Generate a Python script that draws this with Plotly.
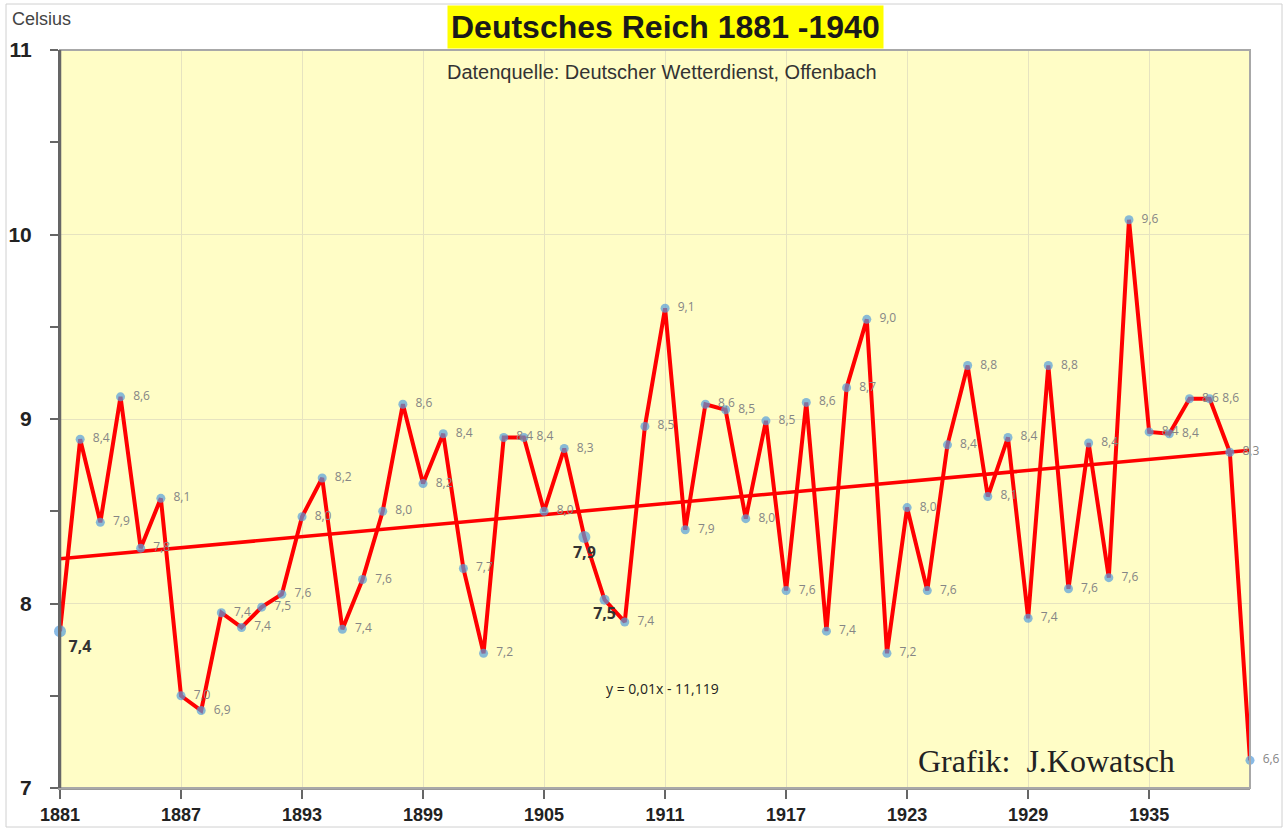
import numpy as np
import plotly.graph_objects as go

years = list(range(1881, 1941))
# plotted positions
values = [7.85, 8.89, 8.44, 9.12, 8.30, 8.57, 7.50, 7.42, 7.95, 7.87,
          7.98, 8.05, 8.47, 8.68, 7.86, 8.13, 8.50, 9.08, 8.65, 8.92,
          8.19, 7.73, 8.90, 8.90, 8.50, 8.84, 8.36, 8.02, 7.90, 8.96,
          9.60, 8.40, 9.08, 9.05, 8.46, 8.99, 8.07, 9.09, 7.85, 9.17,
          9.54, 7.73, 8.52, 8.07, 8.86, 9.29, 8.58, 8.90, 7.92, 9.29,
          8.08, 8.87, 8.14, 10.08, 8.93, 8.92, 9.11, 9.11, 8.82, 7.15]
# printed data labels
labels = ["7,4", "8,4", "7,9", "8,6", "7,8", "8,1", "7,0", "6,9", "7,4", "7,4",
          "7,5", "7,6", "8,0", "8,2", "7,4", "7,6", "8,0", "8,6", "8,2", "8,4",
          "7,7", "7,2", "8,4", "8,4", "8,0", "8,3", "7,9", "7,5", "7,4", "8,5",
          "9,1", "7,9", "8,6", "8,5", "8,0", "8,5", "7,6", "8,6", "7,4", "8,7",
          "9,0", "7,2", "8,0", "7,6", "8,4", "8,8", "8,1", "8,4", "7,4", "8,8",
          "7,6", "8,4", "7,6", "9,6", "8,4", "8,4", "8,6", "8,6", "8,3", "6,6"]
highlight_years = [1881, 1907, 1908]
x_ticks = list(range(1881, 1941, 6))
y_ticks = [7, 8, 9, 10, 11]

# linear trend from the plotted series
slope, intercept = np.polyfit(years, values, 1)
trend_x = [years[0], years[-1]]
trend_y = [slope * v + intercept for v in trend_x]

text_pos, text_size, text_color, texts, msize = [], [], [], [], []
for yr, lb in zip(years, labels):
    if yr in highlight_years:
        texts.append("<b>" + lb + "</b>")
        text_size.append(16)
        text_color.append("#333333")
        text_pos.append("bottom right" if yr == 1881 else "bottom center")
        msize.append(12 if yr != 1908 else 10)
    else:
        texts.append("\u2002" + lb)
        text_size.append(12)
        text_color.append("#858585")
        text_pos.append("middle right")
        msize.append(9)

fig = go.Figure()
fig.add_trace(go.Scatter(x=trend_x, y=trend_y, mode="lines",
                         line=dict(color="#FF0000", width=3.5),
                         hoverinfo="skip", showlegend=False))
fig.add_trace(go.Scatter(x=years, y=values, mode="lines+markers+text",
                         line=dict(color="#FF0000", width=4),
                         marker=dict(color="#559CDC", size=msize, line=dict(width=0)),
                         text=texts, textposition=text_pos,
                         textfont=dict(family="Open Sans, DejaVu Sans", size=text_size, color=text_color),
                         cliponaxis=False, showlegend=False))

L, R, T, B = 60, 35, 50, 42
W, H = 1285, 830
pw, ph = W - L - R, H - T - B

def px(x):
    return (x - L) / pw

def py(y):
    return (H - B - y) / ph

fig.update_layout(
    width=W, height=H,
    margin=dict(l=L, r=R, t=T, b=B, autoexpand=False),
    paper_bgcolor="white",
    plot_bgcolor="#FFFDC6",
    font=dict(family="Liberation Sans, Arial", color="#222"),
    xaxis=dict(range=[1881, 1940], tickvals=x_ticks, ticktext=[str(v) for v in x_ticks],
               automargin=False,
               showgrid=True, gridcolor="#E6E3C0", gridwidth=1, zeroline=False,
               showline=True, linecolor="#9A9A9A", linewidth=2,
               ticks="outside", ticklen=9, tickcolor="#666", tickwidth=1.5,
               tickfont=dict(family="Liberation Sans Narrow, Arial Narrow, Liberation Sans", size=18, color="#222", weight="bold")),
    yaxis=dict(range=[7, 11], tickvals=y_ticks, showgrid=True, gridcolor="#E6E3C0", gridwidth=1,
               automargin=False,
               zeroline=False, showline=True, linecolor="#666", linewidth=2,
               ticks="outside", ticklen=8, tickcolor="#666", tickwidth=1.5,
               ticklabelstandoff=14,
               minor=dict(dtick=0.5, ticks="outside", ticklen=8, tickcolor="#666", tickwidth=1.5, showgrid=False),
               tickfont=dict(family="Liberation Sans, Arial", size=21, color="#222", weight="bold")),
    shapes=[
        dict(type="rect", xref="paper", yref="paper", x0=0, x1=1, y0=0, y1=1,
             line=dict(color="#A8A8A8", width=2), layer="above"),
        dict(type="line", xref="paper", yref="paper", x0=0, x1=0, y0=0, y1=1,
             line=dict(color="#666", width=2.5), layer="above"),
        dict(type="rect", xref="paper", yref="paper", x0=px(6), x1=px(1282), y0=py(827), y1=py(4),
             line=dict(color="#D0D0D0", width=1), layer="below"),
    ],
    annotations=[
        dict(text="<b>Deutsches Reich 1881 -1940</b>", xref="paper", yref="paper",
             x=px(665), y=py(27), xanchor="center", yanchor="middle",
             showarrow=False, bgcolor="#FFFF00", borderpad=3,
             font=dict(family="Liberation Sans, Arial", size=32, color="#1a1a1a")),
        dict(text="Datenquelle: Deutscher Wetterdienst, Offenbach", xref="paper", yref="paper",
             x=px(662), y=py(72), xanchor="center", yanchor="middle", showarrow=False,
             font=dict(family="Liberation Sans, Arial", size=20, color="#333")),
        dict(text="Celsius", xref="paper", yref="paper", x=px(10), y=py(19),
             xanchor="left", yanchor="middle",
             showarrow=False, font=dict(family="Liberation Sans, Arial", size=18, color="#444")),
        dict(text="y = 0,01x - 11,119", xref="paper", yref="paper", x=px(662), y=py(688),
             xanchor="center", yanchor="middle",
             showarrow=False, font=dict(family="Open Sans, DejaVu Sans", size=14, color="#222")),
        dict(text="Grafik:  J.Kowatsch", xref="paper", yref="paper", x=px(1046), y=py(761),
             xanchor="center", yanchor="middle",
             showarrow=False, font=dict(family="Liberation Serif, Times New Roman", size=32, color="#222")),
    ],
)

fig.write_html("out.html", config={"displayModeBar": False},
               post_script="document.body.style.margin='0';document.body.style.overflow='hidden';")
